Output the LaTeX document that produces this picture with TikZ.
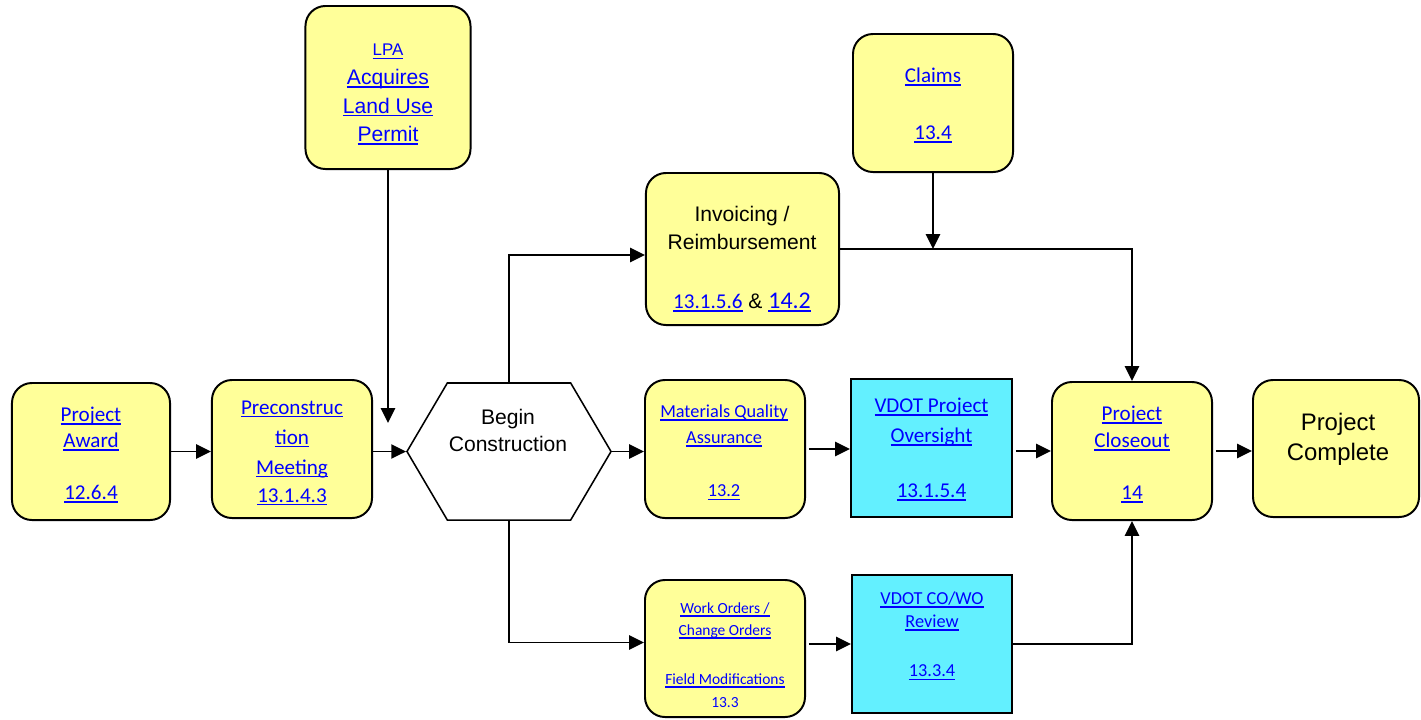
\documentclass[tikz,border=0pt]{standalone}
\usepackage{fontspec}
\setmainfont{Carlito}
\newfontfamily\arialfont{Liberation Sans}
\definecolor{Yellow}{RGB}{255,255,153}
\definecolor{Cyan}{RGB}{99,240,255}
\definecolor{LinkBlue}{RGB}{0,0,255}
\definecolor{Black}{RGB}{0,0,0}
\definecolor{White}{RGB}{255,255,255}
\newcommand{\sectionLink}[1]		{\textcolor{LinkBlue}{\setbox0\hbox{#1}\rlap{\rule[-2.2pt]{\wd0}{1pt}}\box0}}
\newcommand{\fsize}[2]				{\fontsize{#1}{#2}\selectfont}
\usetikzlibrary{arrows.meta, shapes.symbols, calc}
\tikzset{
	task/.style={draw=Black, fill=Yellow, line width=1.4pt, rounded corners=0.5cm},
	review/.style={draw=Black, fill=Cyan, line width=1.4pt},
	flow/.style={-{Triangle[length=10.5pt, width=10pt]}, draw=Black, line width=1.4pt},
}

\begin{document}
\begin{tikzpicture}[x=0.025cm, y=-0.025cm]
		
		\useasboundingbox (0,0) rectangle (1421,719);
		
		% Blocks
		\node[task, minimum width=3.95cm, minimum height=3.425cm] (award) at (91,451.5) {};
		\node[task, minimum width=4cm, minimum height=3.45cm] (precon) at (292,449) {};
		\node[draw=Black, fill=White, line width=1.1pt, signal, signal to=east and west, signal pointer angle=119, minimum width=5.1cm, minimum height=3.425cm] (start) at (509,451.5) {};
		\node[task, minimum width=4cm, minimum height=3.45cm] (mqa) at (725,449) {};
		\node[review, minimum width=4.025cm, minimum height=3.45cm] (vpo) at (931.5,448) {};
		\node[task, minimum width=4cm, minimum height=3.45cm] (close) at (1132,451) {};
		\node[task, minimum width=4.15cm, minimum height=3.425cm] (done) at (1336,448.5) {};
		\node[task, minimum width=4.125cm, minimum height=4.075cm] (lpa) at (388,87.5) {};
		\node[task, minimum width=4cm, minimum height=3.45cm] (claims) at (933,103) {};
		\node[task, minimum width=4.825cm, minimum height=3.8cm] (inv) at (742.5,249) {};
		\node[task, minimum width=4cm, minimum height=3.425cm] (wo) at (725,648.5) {};
		\node[review, minimum width=4cm, minimum height=3.45cm] (cowo) at (932,644) {};
		\coordinate (lpaend) at (388,423);
		
		% Names
		\node[align=center, font=\fsize{15}{18.5}] (awardtxt) at (91,455) {\sectionLink{Project}\\\sectionLink{Award}\\[18.5pt]\sectionLink{12.6.4}};
		\node[align=center, font=\fsize{15}{21.3}] (precontxt) at (292,453) {\sectionLink{Preconstruc}\\\sectionLink{tion}\\\sectionLink{Meeting}\\[-1.4pt]\sectionLink{13.1.4.3}};
		\node[align=center, font=\arialfont\fsize{15}{19.2}] (starttxt) at (508,430) {Begin\\Construction};
		\node[align=center, font=\fsize{13}{18.5}] (mqatxt) at (724,452.5) {\sectionLink{Materials Quality}\\\sectionLink{Assurance}\\[19.2pt]\sectionLink{13.2}};
		\node[align=center, font=\fsize{15}{21.3}] (vpotxt) at (931.5,449.5) {\sectionLink{VDOT Project}\\\sectionLink{Oversight}\\[17.8pt]\sectionLink{13.1.5.4}};
		\node[align=center, font=\fsize{15}{19.2}] (closetxt) at (1132,454.5) {\sectionLink{Project}\\\sectionLink{Closeout}\\[17.8pt]\sectionLink{14}};
		\node[align=center, font=\arialfont\fsize{17}{21.3}] (donetxt) at (1338,439) {Project\\Complete};
		\node[align=center, font=\arialfont\fsize{15}{20.3}] (lpatxt) at (388,94.5) {{\fsize{12}{20.3}\sectionLink{LPA}}\\\sectionLink{Acquires}\\\sectionLink{Land Use}\\\sectionLink{Permit}};
		\node[align=center, font=\fsize{15}{20}] (claimstxt) at (933,105.5) {\sectionLink{Claims}\\[20.5pt]\sectionLink{13.4}};
		\node[align=center, font=\arialfont\fsize{15}{19.9}] (invtxt) at (742,259) {Invoicing /\\Reimbursement\\[22pt]{\rmfamily\sectionLink{13.1.5.6}} \& {\rmfamily\fsize{17}{19.9}\sectionLink{14.2}}};
		\node[align=center, font=\fsize{11}{15.6}] (wotxt) at (725,655.5) {\sectionLink{Work Orders /}\\\sectionLink{Change Orders}\\[19.3pt]\sectionLink{Field Modifications}\\[0.8pt]\textcolor{LinkBlue}{13.3}};
		\node[align=center, font=\fsize{13}{16.4}] (cowotxt) at (932,636) {\sectionLink{VDOT CO/WO}\\\sectionLink{Review}\\[18.5pt]\sectionLink{13.3.4}};
		
		% Main line
		\draw[flow] (award.east) -- (award.east -| precon.west);
		\draw[flow] (precon.east |- start.west) -- (start.west);
		\draw[flow] (start.east) -- (start.east -| mqa.west);
		\draw[flow, shorten <=2pt] (mqa.east) -- (mqa.east -| vpo.west);
		\draw[flow, shorten <=2pt] (vpo.east |- close.west) -- (close.west);
		\draw[flow, shorten <=2pt] (close.east) -- (close.east -| done.west);
		
		% Branches
		\draw[flow] (lpa.south) -- (lpa.south |- lpaend);
		\draw[flow] (start.north) |- ($(inv.west)+(0,6)$);
		\draw[flow] (start.south) |- ($(wo.west)+(0,-6)$);
		\draw[flow, shorten <=2pt] (wo.east |- cowo.west) -- (cowo.west);
		\draw[flow] (inv.east) -| (close.north);
		\draw[flow] (claims.south) -- (claims.south |- inv.east);
		\draw[flow] (cowo.east) -| (close.south);
		
	\end{tikzpicture}
\end{document}
